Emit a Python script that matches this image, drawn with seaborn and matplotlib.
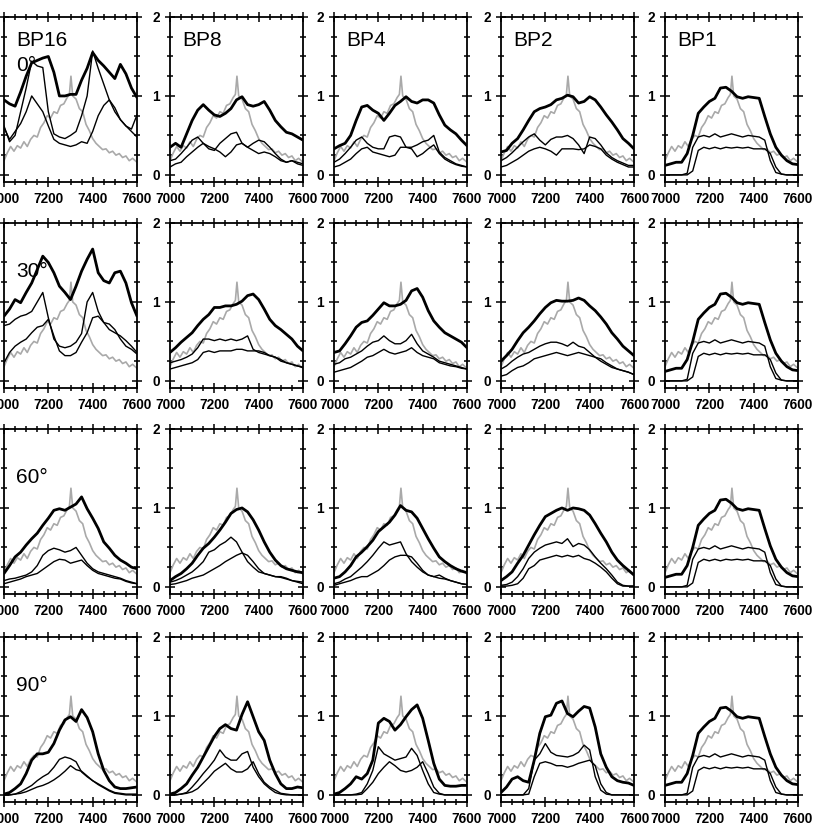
import matplotlib
matplotlib.use("Agg")
import matplotlib.pyplot as plt
from matplotlib.ticker import MultipleLocator
import seaborn as sns

# wavelength grid of the black curves
wave = list(range(7000, 7601, 25))

# grey reference spectrum, same in every panel
ref_wave = [7000, 7015, 7030, 7045, 7060, 7075, 7090, 7105, 7120, 7135, 7150, 7165, 7180, 7195,
            7210, 7225, 7240, 7255, 7270, 7285, 7295, 7302, 7310, 7325, 7340, 7355, 7370, 7385,
            7400, 7415, 7430, 7445, 7460, 7475, 7490, 7505, 7520, 7535, 7550, 7565, 7580, 7600]
ref_flux = [0.18, 0.28, 0.36, 0.30, 0.37, 0.34, 0.42, 0.36, 0.45, 0.50, 0.48, 0.60, 0.66, 0.75,
            0.72, 0.80, 0.78, 0.88, 0.90, 0.98, 1.02, 1.25, 1.00, 0.96, 0.84, 0.80, 0.64, 0.56,
            0.46, 0.40, 0.36, 0.32, 0.33, 0.28, 0.30, 0.25, 0.27, 0.22, 0.24, 0.18, 0.21, 0.16]

# BP16
bp16_00_thick = [0.95, 0.90, 0.87, 1.05, 1.25, 1.42, 1.45, 1.48, 1.50, 1.30, 1.00, 1.00, 1.02, 1.02, 1.20, 1.35, 1.55, 1.45, 1.38, 1.30, 1.22, 1.40, 1.28, 1.10, 0.98]
bp16_00_mid = [0.62, 0.42, 0.50, 0.80, 1.10, 1.44, 1.38, 1.36, 0.80, 0.52, 0.48, 0.46, 0.50, 0.55, 0.75, 1.00, 1.57, 1.35, 1.15, 0.95, 0.80, 0.70, 0.62, 0.55, 0.48]
bp16_00_low = [0.60, 0.45, 0.55, 0.65, 0.80, 1.00, 0.90, 0.80, 0.62, 0.45, 0.40, 0.38, 0.36, 0.38, 0.42, 0.40, 0.55, 0.75, 0.88, 0.95, 0.85, 0.70, 0.62, 0.58, 0.76]
bp16_30_thick = [0.82, 0.91, 1.03, 0.99, 1.12, 1.24, 1.41, 1.58, 1.50, 1.37, 1.20, 1.12, 1.03, 1.20, 1.39, 1.54, 1.67, 1.37, 1.27, 1.24, 1.37, 1.39, 1.24, 0.99, 0.82]
bp16_30_mid = [0.70, 0.72, 0.78, 0.82, 0.84, 0.88, 1.00, 1.12, 0.80, 0.53, 0.44, 0.42, 0.44, 0.49, 0.60, 1.00, 1.12, 0.88, 0.74, 0.65, 0.61, 0.57, 0.51, 0.44, 0.36]
bp16_30_low = [0.23, 0.36, 0.44, 0.49, 0.53, 0.61, 0.68, 0.70, 0.78, 0.57, 0.38, 0.32, 0.32, 0.36, 0.49, 0.61, 0.80, 0.82, 0.74, 0.72, 0.65, 0.53, 0.44, 0.40, 0.34]
bp16_60_thick = [0.17, 0.27, 0.38, 0.44, 0.53, 0.61, 0.68, 0.78, 0.87, 0.97, 0.99, 0.97, 1.01, 1.05, 1.14, 0.99, 0.87, 0.74, 0.57, 0.49, 0.40, 0.34, 0.30, 0.25, 0.23]
bp16_60_mid = [0.08, 0.10, 0.11, 0.13, 0.15, 0.19, 0.27, 0.40, 0.46, 0.49, 0.47, 0.44, 0.46, 0.50, 0.40, 0.30, 0.23, 0.19, 0.17, 0.15, 0.13, 0.11, 0.08, 0.06, 0.04]
bp16_60_low = [0.04, 0.06, 0.08, 0.10, 0.13, 0.15, 0.17, 0.22, 0.27, 0.32, 0.35, 0.34, 0.30, 0.32, 0.34, 0.27, 0.21, 0.17, 0.15, 0.13, 0.11, 0.10, 0.07, 0.05, 0.04]
bp16_90_thick = [0.01, 0.03, 0.08, 0.14, 0.27, 0.44, 0.52, 0.52, 0.54, 0.65, 0.82, 0.95, 0.99, 0.93, 1.08, 0.98, 0.80, 0.52, 0.31, 0.18, 0.10, 0.08, 0.08, 0.09, 0.10]
bp16_90_mid = [0.00, 0.00, 0.01, 0.04, 0.08, 0.12, 0.18, 0.23, 0.27, 0.35, 0.45, 0.48, 0.46, 0.42, 0.29, 0.23, 0.18, 0.14, 0.10, 0.06, 0.03, 0.02, 0.01, 0.01, 0.01]
bp16_90_low = [0.00, 0.00, 0.01, 0.02, 0.04, 0.07, 0.10, 0.12, 0.15, 0.19, 0.24, 0.30, 0.37, 0.32, 0.30, 0.24, 0.18, 0.13, 0.09, 0.05, 0.02, 0.01, 0.00, 0.00, 0.00]

# BP8
bp8_00_thick = [0.35, 0.40, 0.35, 0.52, 0.69, 0.82, 0.89, 0.82, 0.76, 0.74, 0.78, 0.84, 0.95, 0.99, 0.89, 0.87, 0.89, 0.93, 0.82, 0.69, 0.61, 0.54, 0.52, 0.48, 0.44]
bp8_00_mid = [0.18, 0.20, 0.27, 0.35, 0.44, 0.48, 0.40, 0.33, 0.31, 0.40, 0.46, 0.52, 0.54, 0.40, 0.35, 0.31, 0.27, 0.29, 0.27, 0.23, 0.18, 0.16, 0.18, 0.16, 0.14]
bp8_00_low = [0.10, 0.14, 0.16, 0.23, 0.29, 0.35, 0.40, 0.36, 0.33, 0.29, 0.23, 0.29, 0.38, 0.40, 0.35, 0.40, 0.44, 0.42, 0.35, 0.27, 0.20, 0.16, 0.18, 0.14, 0.12]
bp8_30_thick = [0.36, 0.42, 0.49, 0.55, 0.61, 0.70, 0.78, 0.84, 0.93, 0.93, 0.95, 0.95, 0.97, 1.01, 1.08, 1.10, 1.03, 0.91, 0.78, 0.70, 0.65, 0.59, 0.53, 0.44, 0.38]
bp8_30_mid = [0.23, 0.25, 0.27, 0.30, 0.34, 0.42, 0.53, 0.53, 0.51, 0.53, 0.51, 0.53, 0.51, 0.53, 0.57, 0.40, 0.36, 0.34, 0.32, 0.30, 0.27, 0.23, 0.21, 0.19, 0.17]
bp8_30_low = [0.15, 0.17, 0.19, 0.21, 0.23, 0.27, 0.36, 0.38, 0.36, 0.38, 0.38, 0.38, 0.40, 0.40, 0.38, 0.38, 0.38, 0.36, 0.32, 0.30, 0.25, 0.23, 0.21, 0.19, 0.17]
bp8_60_thick = [0.08, 0.13, 0.17, 0.23, 0.30, 0.40, 0.49, 0.55, 0.63, 0.72, 0.82, 0.93, 0.98, 1.00, 0.95, 0.85, 0.72, 0.57, 0.44, 0.34, 0.27, 0.23, 0.21, 0.19, 0.18]
bp8_60_mid = [0.06, 0.08, 0.11, 0.15, 0.19, 0.25, 0.32, 0.44, 0.47, 0.53, 0.57, 0.63, 0.57, 0.44, 0.32, 0.25, 0.19, 0.17, 0.15, 0.13, 0.13, 0.11, 0.08, 0.07, 0.06]
bp8_60_low = [0.03, 0.04, 0.06, 0.08, 0.11, 0.13, 0.15, 0.19, 0.23, 0.27, 0.32, 0.36, 0.40, 0.43, 0.40, 0.32, 0.23, 0.17, 0.15, 0.13, 0.12, 0.10, 0.08, 0.06, 0.04]
bp8_90_thick = [0.01, 0.03, 0.08, 0.14, 0.25, 0.35, 0.48, 0.61, 0.74, 0.84, 0.89, 0.84, 0.82, 1.02, 1.18, 0.99, 0.80, 0.69, 0.44, 0.27, 0.14, 0.08, 0.08, 0.10, 0.09]
bp8_90_mid = [0.00, 0.00, 0.01, 0.03, 0.10, 0.18, 0.27, 0.35, 0.44, 0.57, 0.48, 0.44, 0.44, 0.52, 0.55, 0.35, 0.23, 0.14, 0.08, 0.03, 0.01, 0.00, 0.00, 0.00, 0.00]
bp8_90_low = [0.00, 0.00, 0.01, 0.02, 0.04, 0.08, 0.15, 0.22, 0.30, 0.35, 0.40, 0.33, 0.29, 0.29, 0.33, 0.42, 0.27, 0.16, 0.10, 0.06, 0.02, 0.01, 0.00, 0.00, 0.00]

# BP4
bp4_00_thick = [0.33, 0.37, 0.40, 0.50, 0.69, 0.86, 0.88, 0.82, 0.78, 0.69, 0.78, 0.88, 0.93, 0.99, 0.93, 0.91, 0.95, 0.95, 0.91, 0.76, 0.63, 0.57, 0.52, 0.44, 0.37]
bp4_00_mid = [0.16, 0.20, 0.27, 0.35, 0.44, 0.48, 0.40, 0.35, 0.33, 0.33, 0.48, 0.50, 0.48, 0.35, 0.33, 0.23, 0.27, 0.33, 0.38, 0.27, 0.20, 0.16, 0.13, 0.11, 0.10]
bp4_00_low = [0.10, 0.12, 0.16, 0.20, 0.27, 0.33, 0.35, 0.29, 0.27, 0.25, 0.23, 0.25, 0.35, 0.35, 0.35, 0.38, 0.42, 0.44, 0.50, 0.29, 0.22, 0.18, 0.14, 0.12, 0.10]
bp4_30_thick = [0.36, 0.38, 0.47, 0.57, 0.68, 0.74, 0.76, 0.83, 0.91, 0.99, 0.95, 0.95, 0.97, 1.02, 1.14, 1.17, 1.06, 0.89, 0.76, 0.68, 0.61, 0.57, 0.53, 0.49, 0.42]
bp4_30_mid = [0.21, 0.23, 0.28, 0.30, 0.34, 0.38, 0.44, 0.49, 0.51, 0.57, 0.51, 0.47, 0.47, 0.51, 0.59, 0.47, 0.38, 0.34, 0.30, 0.25, 0.23, 0.21, 0.19, 0.17, 0.15]
bp4_30_low = [0.11, 0.13, 0.15, 0.17, 0.21, 0.25, 0.30, 0.32, 0.36, 0.40, 0.36, 0.34, 0.36, 0.38, 0.42, 0.36, 0.32, 0.30, 0.28, 0.23, 0.21, 0.19, 0.18, 0.16, 0.15]
bp4_60_thick = [0.11, 0.13, 0.19, 0.27, 0.38, 0.44, 0.51, 0.59, 0.70, 0.76, 0.82, 0.91, 1.03, 0.97, 0.95, 0.87, 0.74, 0.61, 0.49, 0.38, 0.32, 0.27, 0.23, 0.20, 0.18]
bp4_60_mid = [0.04, 0.06, 0.10, 0.13, 0.19, 0.25, 0.32, 0.40, 0.49, 0.57, 0.53, 0.55, 0.57, 0.42, 0.32, 0.25, 0.19, 0.15, 0.13, 0.15, 0.11, 0.08, 0.06, 0.04, 0.03]
bp4_60_low = [0.02, 0.04, 0.06, 0.08, 0.11, 0.13, 0.13, 0.17, 0.21, 0.27, 0.34, 0.38, 0.40, 0.40, 0.38, 0.30, 0.21, 0.15, 0.13, 0.11, 0.10, 0.08, 0.06, 0.04, 0.03]
bp4_90_thick = [0.01, 0.03, 0.08, 0.14, 0.23, 0.20, 0.27, 0.44, 0.91, 0.97, 0.93, 0.82, 0.89, 0.99, 1.08, 1.14, 0.97, 0.69, 0.40, 0.20, 0.12, 0.11, 0.11, 0.12, 0.12]
bp4_90_mid = [0.00, 0.00, 0.00, 0.00, 0.01, 0.03, 0.14, 0.31, 0.61, 0.52, 0.48, 0.44, 0.46, 0.48, 0.59, 0.50, 0.31, 0.14, 0.03, 0.01, 0.00, 0.00, 0.00, 0.00, 0.00]
bp4_90_low = [0.00, 0.00, 0.00, 0.00, 0.00, 0.01, 0.08, 0.16, 0.27, 0.35, 0.42, 0.37, 0.31, 0.29, 0.31, 0.35, 0.42, 0.27, 0.10, 0.02, 0.00, 0.00, 0.00, 0.00, 0.00]

# BP2
bp2_00_thick = [0.29, 0.31, 0.40, 0.46, 0.57, 0.69, 0.80, 0.84, 0.86, 0.89, 0.95, 0.97, 1.01, 0.99, 0.91, 0.93, 0.99, 0.95, 0.86, 0.76, 0.67, 0.57, 0.46, 0.40, 0.33]
bp2_00_mid = [0.18, 0.22, 0.28, 0.35, 0.42, 0.48, 0.52, 0.44, 0.38, 0.45, 0.48, 0.48, 0.50, 0.46, 0.38, 0.27, 0.48, 0.46, 0.38, 0.28, 0.22, 0.18, 0.15, 0.12, 0.12]
bp2_00_low = [0.10, 0.12, 0.16, 0.20, 0.25, 0.30, 0.33, 0.35, 0.33, 0.30, 0.25, 0.33, 0.33, 0.33, 0.32, 0.33, 0.38, 0.36, 0.33, 0.25, 0.20, 0.16, 0.13, 0.10, 0.10]
bp2_30_thick = [0.25, 0.32, 0.40, 0.51, 0.61, 0.68, 0.76, 0.85, 0.93, 0.99, 1.02, 1.01, 1.01, 1.02, 1.05, 1.02, 0.95, 0.89, 0.81, 0.72, 0.61, 0.53, 0.44, 0.38, 0.32]
bp2_30_mid = [0.15, 0.19, 0.25, 0.30, 0.34, 0.36, 0.40, 0.44, 0.47, 0.49, 0.49, 0.47, 0.44, 0.49, 0.44, 0.42, 0.36, 0.30, 0.28, 0.23, 0.19, 0.15, 0.13, 0.11, 0.08]
bp2_30_low = [0.06, 0.08, 0.13, 0.17, 0.19, 0.23, 0.28, 0.30, 0.32, 0.34, 0.36, 0.34, 0.32, 0.34, 0.36, 0.34, 0.32, 0.30, 0.25, 0.21, 0.17, 0.15, 0.13, 0.11, 0.08]
bp2_60_thick = [0.08, 0.13, 0.19, 0.30, 0.40, 0.53, 0.66, 0.78, 0.89, 0.93, 0.97, 1.00, 0.97, 1.00, 0.99, 0.97, 0.91, 0.80, 0.68, 0.57, 0.44, 0.34, 0.27, 0.21, 0.15]
bp2_60_mid = [0.02, 0.03, 0.06, 0.13, 0.23, 0.36, 0.44, 0.49, 0.53, 0.55, 0.57, 0.55, 0.61, 0.51, 0.55, 0.53, 0.47, 0.38, 0.30, 0.23, 0.15, 0.06, 0.02, 0.01, 0.01]
bp2_60_low = [0.01, 0.01, 0.02, 0.04, 0.11, 0.23, 0.27, 0.34, 0.36, 0.38, 0.40, 0.38, 0.40, 0.38, 0.40, 0.36, 0.34, 0.30, 0.25, 0.19, 0.11, 0.04, 0.01, 0.01, 0.01]
bp2_90_thick = [0.03, 0.10, 0.20, 0.23, 0.18, 0.16, 0.44, 0.78, 0.99, 1.01, 1.16, 1.19, 1.03, 0.99, 1.06, 1.12, 1.10, 0.86, 0.52, 0.35, 0.23, 0.18, 0.16, 0.15, 0.12]
bp2_90_mid = [0.00, 0.00, 0.00, 0.00, 0.00, 0.08, 0.44, 0.52, 0.65, 0.54, 0.50, 0.49, 0.48, 0.50, 0.54, 0.63, 0.57, 0.23, 0.06, 0.01, 0.00, 0.00, 0.00, 0.00, 0.00]
bp2_90_low = [0.00, 0.00, 0.00, 0.00, 0.00, 0.01, 0.23, 0.40, 0.42, 0.40, 0.37, 0.37, 0.35, 0.37, 0.40, 0.42, 0.44, 0.37, 0.14, 0.03, 0.00, 0.00, 0.00, 0.00, 0.00]

# BP1 (the same at every angle)
bp1_thick = [0.12, 0.14, 0.16, 0.16, 0.27, 0.50, 0.78, 0.86, 0.93, 0.97, 1.10, 1.11, 1.06, 0.99, 0.97, 0.99, 0.98, 0.97, 0.74, 0.52, 0.35, 0.25, 0.18, 0.14, 0.13]
bp1_mid = [0.00, 0.00, 0.00, 0.00, 0.02, 0.35, 0.48, 0.50, 0.48, 0.52, 0.48, 0.50, 0.52, 0.50, 0.48, 0.50, 0.49, 0.48, 0.44, 0.18, 0.03, 0.01, 0.00, 0.00, 0.00]
bp1_low = [0.00, 0.00, 0.00, 0.00, 0.00, 0.05, 0.31, 0.35, 0.33, 0.35, 0.33, 0.35, 0.34, 0.35, 0.34, 0.35, 0.33, 0.33, 0.33, 0.27, 0.10, 0.01, 0.00, 0.00, 0.00]

filters = ["BP16", "BP8", "BP4", "BP2", "BP1"]
angles = ["0°", "30°", "60°", "90°"]

grid = [
    [(bp16_00_thick, bp16_00_mid, bp16_00_low), (bp8_00_thick, bp8_00_mid, bp8_00_low),
     (bp4_00_thick, bp4_00_mid, bp4_00_low), (bp2_00_thick, bp2_00_mid, bp2_00_low),
     (bp1_thick, bp1_mid, bp1_low)],
    [(bp16_30_thick, bp16_30_mid, bp16_30_low), (bp8_30_thick, bp8_30_mid, bp8_30_low),
     (bp4_30_thick, bp4_30_mid, bp4_30_low), (bp2_30_thick, bp2_30_mid, bp2_30_low),
     (bp1_thick, bp1_mid, bp1_low)],
    [(bp16_60_thick, bp16_60_mid, bp16_60_low), (bp8_60_thick, bp8_60_mid, bp8_60_low),
     (bp4_60_thick, bp4_60_mid, bp4_60_low), (bp2_60_thick, bp2_60_mid, bp2_60_low),
     (bp1_thick, bp1_mid, bp1_low)],
    [(bp16_90_thick, bp16_90_mid, bp16_90_low), (bp8_90_thick, bp8_90_mid, bp8_90_low),
     (bp4_90_thick, bp4_90_mid, bp4_90_low), (bp2_90_thick, bp2_90_mid, bp2_90_low),
     (bp1_thick, bp1_mid, bp1_low)],
]

sns.set_theme(style="ticks")
plt.rcParams["font.family"] = ["Liberation Sans", "DejaVu Sans"]
plt.rcParams["text.color"] = "black"

W, H = 830, 832
fig = plt.figure(figsize=(W / 100, H / 100), dpi=100)

# panel placement in pixels (left edge of each column, top edge of each row)
col_left = [4, 170, 334, 501, 665]
row_top = [17, 223, 429, 637]
pw, ph = 133, 165

for r, row in enumerate(grid):
    for c, (thick, mid, low) in enumerate(row):
        ax = fig.add_axes([col_left[c] / W, (H - row_top[r] - ph) / H, pw / W, ph / H])
        sns.lineplot(x=ref_wave, y=ref_flux, ax=ax, color="#a9a9a9", linewidth=1.2)
        sns.lineplot(x=wave, y=low, ax=ax, color="black", linewidth=1.0)
        sns.lineplot(x=wave, y=mid, ax=ax, color="black", linewidth=1.0)
        sns.lineplot(x=wave, y=thick, ax=ax, color="black", linewidth=2.0)

        ax.set_xlim(7000, 7600)
        ax.set_ylim(-0.09, 2.0)
        ax.set_xticks([7000, 7200, 7400, 7600])
        ax.set_xticklabels(["7000", "7200", "7400", "7600"], fontweight="bold", fontsize=9.8)
        ax.set_yticks([0, 1, 2])
        ax.set_yticklabels(["0", "1", "2"], fontweight="bold", fontsize=9.8)
        ax.xaxis.set_minor_locator(MultipleLocator(50))
        ax.yaxis.set_minor_locator(MultipleLocator(0.25))
        ax.tick_params(which="both", direction="inout", top=True, right=True,
                       width=1.1, color="black", labelcolor="black", pad=4)
        ax.tick_params(which="major", length=7)
        ax.tick_params(which="minor", length=4.5)
        for s in ax.spines.values():
            s.set_linewidth(1.3)
            s.set_color("black")
        ax.set_xlabel("")
        ax.set_ylabel("")

        if r == 0:
            ax.text(0.09, 0.827, filters[c], transform=ax.transAxes, fontsize=15,
                    color="black", va="baseline", ha="left")
        if c == 0:
            ax.text(0.09, 0.672, angles[r], transform=ax.transAxes, fontsize=15,
                    color="black", va="baseline", ha="left")

fig.savefig("out.png", dpi=100, facecolor="white")
